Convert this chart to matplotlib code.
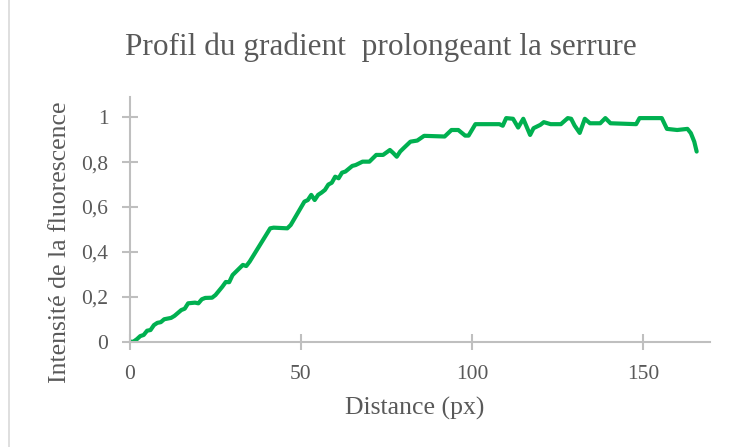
import matplotlib
matplotlib.use("Agg")
import matplotlib.pyplot as plt
from matplotlib.ticker import FuncFormatter
from matplotlib.lines import Line2D

# Fluorescence intensity profile along the gradient
distance = [0, 1, 2, 3, 4, 5, 6, 7, 8, 9, 10, 11, 12, 13, 15, 16, 17, 19, 20, 21,
            22, 24, 25, 27, 28, 29, 30, 32, 33, 34, 35, 41, 42, 46, 47, 51, 52, 53,
            54, 55, 56, 57, 58, 59, 60, 61, 62, 63, 65, 66, 68, 70, 72, 74, 76, 77,
            78, 79, 80, 82, 84, 86, 92, 94, 96, 98, 99, 101, 108, 109, 110, 112,
            113.5, 115, 117, 118, 120, 121, 123, 126, 128, 129, 130, 131.5, 133,
            134.5, 137.5, 139, 140.5, 148, 149, 155.5, 157, 160, 163, 164, 165, 165.7]
intensity = [0.0, 0.0, 0.011, 0.025, 0.03, 0.049, 0.052, 0.074, 0.084, 0.087, 0.10,
             0.103, 0.106, 0.115, 0.141, 0.147, 0.171, 0.174, 0.171, 0.189, 0.195,
             0.196, 0.208, 0.245, 0.266, 0.265, 0.297, 0.327, 0.342, 0.337, 0.357,
             0.505, 0.508, 0.505, 0.52, 0.624, 0.631, 0.654, 0.631, 0.654, 0.664,
             0.676, 0.70, 0.708, 0.735, 0.728, 0.753, 0.758, 0.783, 0.787, 0.802,
             0.802, 0.832, 0.832, 0.854, 0.84, 0.824, 0.847, 0.862, 0.891, 0.896,
             0.917, 0.914, 0.943, 0.943, 0.918, 0.918, 0.969, 0.969, 0.962, 0.996,
             0.993, 0.954, 0.993, 0.921, 0.951, 0.966, 0.978, 0.969, 0.969, 0.996,
             0.993, 0.963, 0.93, 0.993, 0.973, 0.973, 0.996, 0.973, 0.969, 0.996,
             0.996, 0.948, 0.943, 0.948, 0.929, 0.891, 0.847]

x_ticks = [0, 50, 100, 150]
y_ticks = [0, 0.2, 0.4, 0.6, 0.8, 1.0]

title = "Profil du gradient  prolongeant la serrure"
x_label = "Distance (px)"
y_label = "Intensité de la fluorescence"

text_color = "#595959"
axis_color = "#bfbfbf"
line_color = "#00b050"

plt.rcParams["font.family"] = ["Liberation Serif", "DejaVu Serif"]

fig = plt.figure(figsize=(7.39, 4.47), dpi=100)
ax = fig.add_axes([130 / 739, 1 - 341.7 / 447, 580 / 739, (341.7 - 97) / 447])

ax.plot(distance, intensity, color=line_color, lw=3.0, solid_joinstyle="round",
        solid_capstyle="round")

ax.set_xlim(0, 169.6)
ax.set_ylim(0, 1.09)
ax.set_xticks(x_ticks)
ax.set_yticks(y_ticks)
ax.yaxis.set_major_formatter(FuncFormatter(
    lambda v, _: "0" if v == 0 else ("1" if v == 1 else f"{v:.1f}".replace(".", ","))))

for side in ("top", "right"):
    ax.spines[side].set_visible(False)
for side in ("left", "bottom"):
    ax.spines[side].set_color(axis_color)
    ax.spines[side].set_linewidth(1.5)

ax.tick_params(axis="both", direction="inout", length=11, width=1.5,
               color=axis_color, labelcolor=text_color, labelsize=15.5)
ax.tick_params(axis="x", pad=11)
ax.tick_params(axis="y", pad=10)

ax.set_xlabel(x_label, color=text_color, fontsize=18.5)
ax.set_ylabel(y_label, color=text_color, fontsize=18.5)
ax.xaxis.set_label_coords((415 - 130) / 580, (341.7 - 408) / 244.7)
ax.xaxis.label.set_va("center")
ax.yaxis.set_label_coords((60 - 130) / 580, (341.7 - 242) / 244.7)
ax.yaxis.label.set_va("center")
ax.yaxis.label.set_ha("center")

fig.text(381 / 739, 1 - 47 / 447, title, ha="center", va="center",
         color=text_color, fontsize=22.5)

# thin chart-area border on the left edge
fig.add_artist(Line2D([9 / 739, 9 / 739], [0, 1], transform=fig.transFigure,
                      color="#d9d9d9", lw=1.2))

fig.savefig("out.png", dpi=100, facecolor="white")
